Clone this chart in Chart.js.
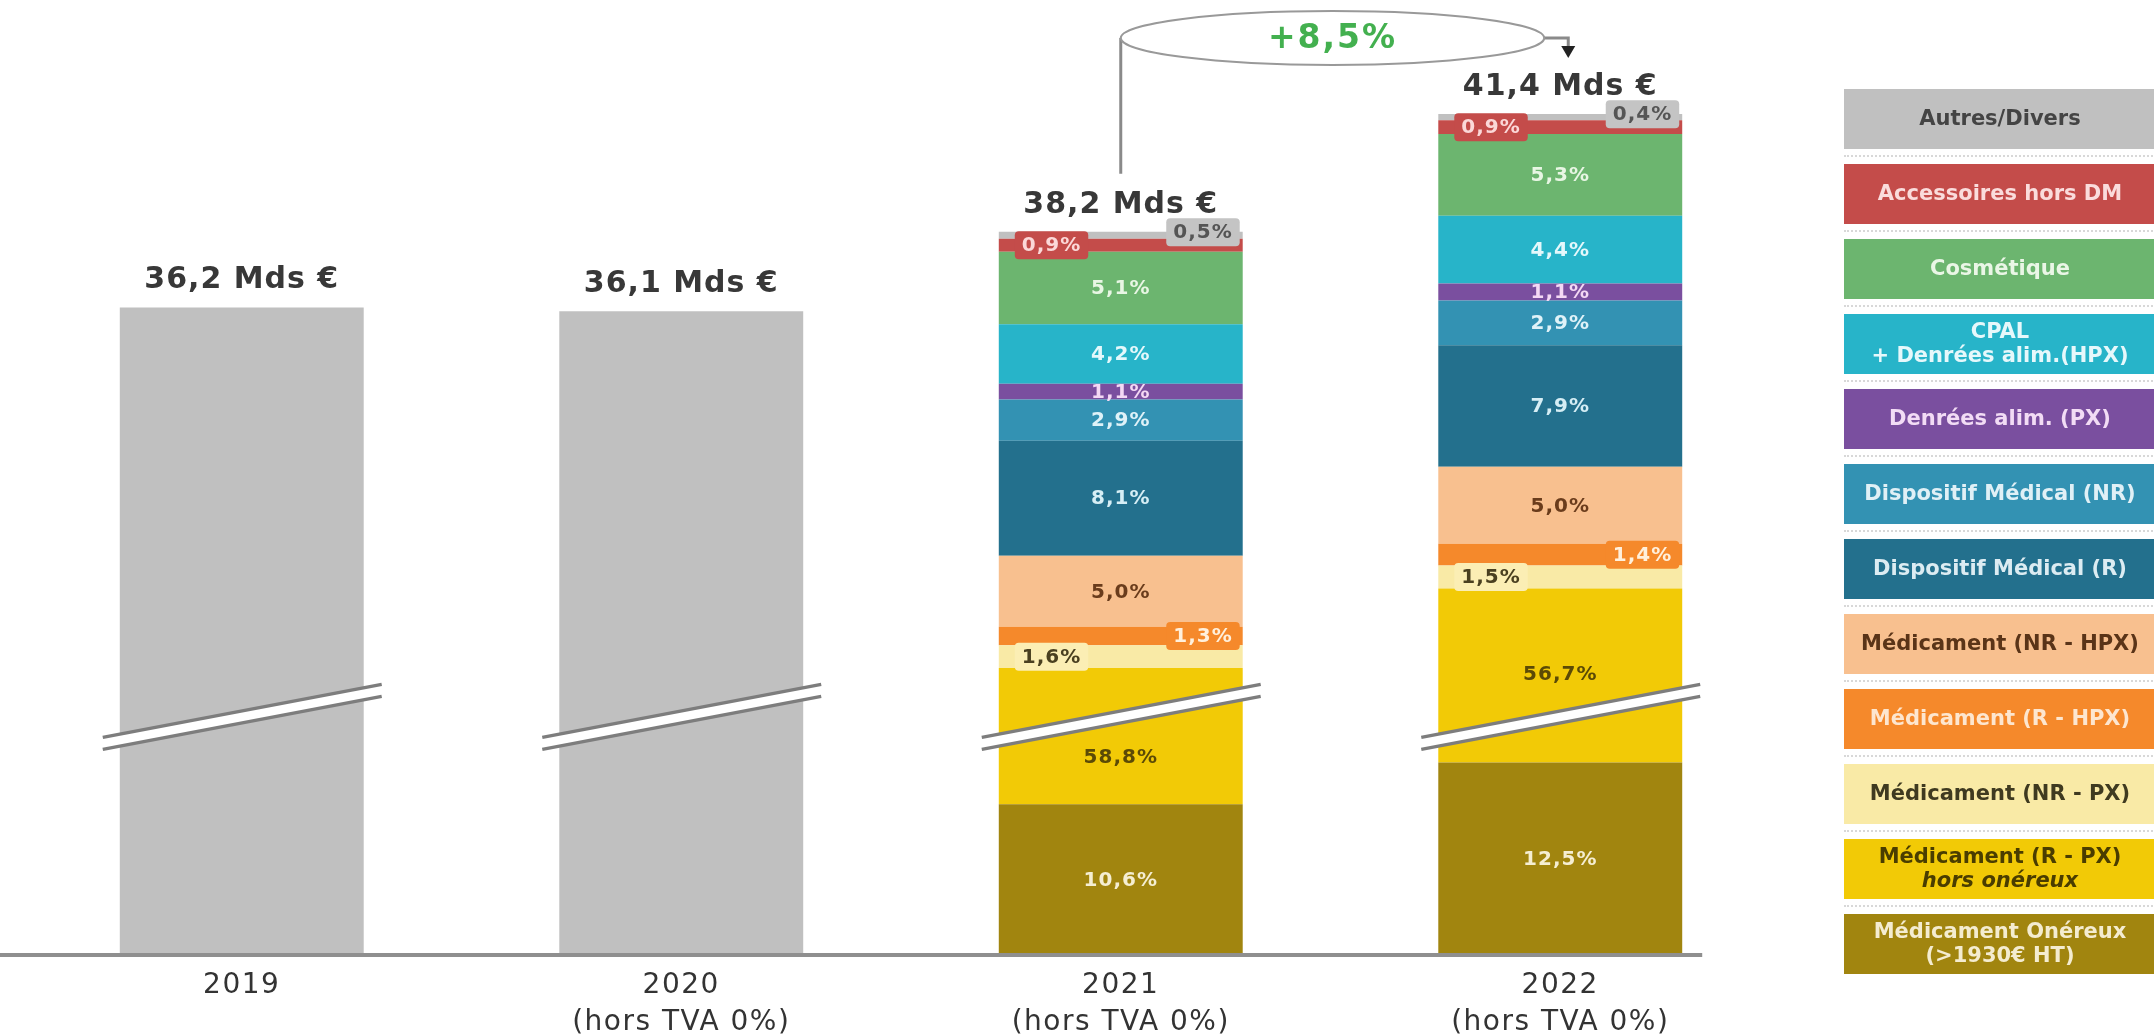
<!DOCTYPE html>
<html lang="fr">
<head>
<meta charset="utf-8">
<title>Marché officinal 2019-2022</title>
<script src="https://cdn.jsdelivr.net/npm/chart.js@4.4.1/dist/chart.umd.min.js"></script>
<style>
  html, body { margin: 0; padding: 0; background: #fff; }
  #wrap { position: relative; width: 2154px; height: 1035px; overflow: hidden; }
  #chart { position: absolute; left: 0; top: 0; }
  #legend { position: absolute; left: 1844px; top: 89px; width: 312px; }
  .leg-item {
    height: 60px; display: flex; flex-direction: column; justify-content: center; align-items: center;
    font: bold 21px 'DejaVu Sans', sans-serif; line-height: 1.12; text-align: center;
  }
  .leg-sep { height: 15px; position: relative; }
  .leg-sep::after { content: ''; position: absolute; left: 0; right: 0; top: 6px; border-top: 2px dotted #d8d8d8; }
</style>
</head>
<body>
<div id="wrap">
  <canvas id="chart" width="2154" height="1035"></canvas>
  <div id="legend"></div>
</div>
<script>
const FONT = "'DejaVu Sans', sans-serif";

// data
const categories = [['2019'], ['2020', '(hors TVA 0%)'], ['2021', '(hors TVA 0%)'], ['2022', '(hors TVA 0%)']];
const totals = [36.2, 36.1, 38.2, 41.4]; // Mds €
const segmentNames = [
  ['Médicament Onéreux', '(>1930€ HT)'],
  ['Médicament (R - PX)', 'hors onéreux'],
  ['Médicament (NR - PX)'],
  ['Médicament (R - HPX)'],
  ['Médicament (NR - HPX)'],
  ['Dispositif Médical (R)'],
  ['Dispositif Médical (NR)'],
  ['Denrées alim. (PX)'],
  ['CPAL', '+ Denrées alim.(HPX)'],
  ['Cosmétique'],
  ['Accessoires hors DM'],
  ['Autres/Divers']
];
const shares2021 = [10.6, 58.8, 1.6, 1.3, 5.0, 8.1, 2.9, 1.1, 4.2, 5.1, 0.9, 0.5]; // %
const shares2022 = [12.5, 56.7, 1.5, 1.4, 5.0, 7.9, 2.9, 1.1, 4.4, 5.3, 0.9, 0.4]; // %
const growthLabel = '+8,5%';

// the axis is cut: this many Mds € are hidden inside the break
const AXIS_BREAK = 18.8;
const BREAK_AT = 6.4; // where the break marks sit, Mds € above the base

// styles
const segmentColors = ['#a1850f', '#f2ca06', '#f9eaa6', '#f5892b', '#f8c08f', '#23708d', '#3392b3', '#7a4f9f', '#27b4c9', '#6cb56f', '#c44c4a', '#c0c0c0'];
const labelColors = ['#f5eed2', '#5b4a06', '#4a4020', '#fff0dc', '#6a3c1c', '#d6eef5', '#dff2f8', '#f4d8f4', '#e4f8fb', '#e8f6e4', '#fbd8d8', '#555555'];
const legendText = ['#f4ecd0', '#4a3d00', '#3f3a20', '#fde6cf', '#5a3418', '#dcecf2', '#e0f0f6', '#f2dcf5', '#e6f8fb', '#eaf6e6', '#fadcdc', '#444444'];
const labelPlace = ['c', 'c', 'l', 'r', 'c', 'c', 'c', 'c', 'c', 'c', 'l', 'r'];
const boxColors = { 2: '#fbeeb4', 3: '#f5892b', 10: '#c44c4a', 11: '#c4c4c4' };
const yellowLabelPos = { 2: 0.35, 3: 0.51 };

function fmt(v) {
  return v.toFixed(1).replace('.', ',') + '%';
}

const datasets = [{
  label: 'Total',
  data: totals.map((t, i) => i < 2 ? t - AXIS_BREAK : null),
  backgroundColor: '#c0c0c0'
}];

segmentNames.forEach((name, s) => {
  const shares = [null, null, shares2021[s], shares2022[s]];
  datasets.push({
    label: name.join(' '),
    shares: shares,
    data: shares.map((p, i) => p === null ? null : totals[i] * p / 100 - (s === 1 ? AXIS_BREAK : 0)),
    backgroundColor: segmentColors[s]
  });
});

// legend on the right, top item = top of the stack
const legend = document.getElementById('legend');
for (let s = segmentNames.length - 1; s >= 0; s--) {
  const item = document.createElement('div');
  item.className = 'leg-item';
  item.style.background = segmentColors[s];
  item.style.color = legendText[s];
  segmentNames[s].forEach((line, k) => {
    const span = document.createElement('div');
    span.textContent = line;
    if (s === 1 && k === 1) span.style.fontStyle = 'italic';
    item.appendChild(span);
  });
  legend.appendChild(item);
  if (s > 0) {
    const sep = document.createElement('div');
    sep.className = 'leg-sep';
    legend.appendChild(sep);
  }
}

function stackTop(chart, i) {
  let top = Infinity;
  chart.data.datasets.forEach((ds, d) => {
    if (ds.data[i] === null) return;
    const el = chart.getDatasetMeta(d).data[i];
    top = Math.min(top, el.y);
  });
  return top;
}

function barOf(chart, i) {
  for (let d = 0; d < chart.data.datasets.length; d++) {
    if (chart.data.datasets[d].data[i] !== null) return chart.getDatasetMeta(d).data[i];
  }
}

const decorations = {
  id: 'decorations',
  beforeDraw(chart) {
    // a bit of spacing for the year labels
    chart.ctx.letterSpacing = '1.5px';
  },
  afterDatasetsDraw(chart) {
    const { ctx, scales: { y } } = chart;
    const base = y.getPixelForValue(0);
    ctx.save();

    // base line
    const last = barOf(chart, categories.length - 1);
    ctx.strokeStyle = '#8f8f8f';
    ctx.lineWidth = 4;
    ctx.beginPath();
    ctx.moveTo(0, base);
    ctx.lineTo(last.x + last.width / 2 + 20, base);
    ctx.stroke();

    // axis break marks
    const yb = y.getPixelForValue(BREAK_AT);
    categories.forEach((c, i) => {
      const el = barOf(chart, i);
      const x0 = el.x - el.width / 2 - 17, x1 = el.x + el.width / 2 + 18;
      const slope = 0.19;
      const y0 = yb + (x1 - x0) * slope / 2, y1 = yb - (x1 - x0) * slope / 2;
      ctx.lineCap = 'butt';
      ctx.strokeStyle = '#ffffff';
      ctx.lineWidth = 12;
      ctx.beginPath(); ctx.moveTo(x0, y0); ctx.lineTo(x1, y1); ctx.stroke();
      ctx.strokeStyle = '#7d7d7d';
      ctx.lineWidth = 3.5;
      [-6, 6].forEach(off => {
        ctx.beginPath(); ctx.moveTo(x0, y0 + off); ctx.lineTo(x1, y1 + off); ctx.stroke();
      });
    });

    // segment labels
    ctx.font = 'bold 20px ' + FONT;
    ctx.textBaseline = 'middle';
    ctx.letterSpacing = '1px';
    chart.data.datasets.forEach((ds, d) => {
      if (!ds.shares) return;
      const s = d - 1;
      ds.shares.forEach((p, i) => {
        if (p === null) return;
        const el = chart.getDatasetMeta(d).data[i];
        let cy = (el.y + el.base) / 2;
        if (s === 1) cy = el.base - (el.base - el.y) * yellowLabelPos[i];
        const text = fmt(p);
        const w = ctx.measureText(text).width;
        let cx = el.x;
        if (labelPlace[s] === 'l') cx = el.x - el.width / 2 + 16 + (w + 14) / 2;
        if (labelPlace[s] === 'r') cx = el.x + el.width / 2 - 3 - (w + 14) / 2;
        if (s === 11) cy -= 3;
        if (boxColors[s]) {
          ctx.fillStyle = boxColors[s];
          ctx.beginPath();
          ctx.roundRect(cx - (w + 14) / 2, cy - 14, w + 14, 28, 4);
          ctx.fill();
        }
        ctx.fillStyle = labelColors[s];
        ctx.textAlign = 'center';
        ctx.fillText(text, cx, cy + 1);
      });
    });

    // totals above the bars
    ctx.font = 'bold 30px ' + FONT;
    ctx.letterSpacing = '1px';
    ctx.fillStyle = '#383838';
    const tops = categories.map((c, i) => stackTop(chart, i));
    totals.forEach((t, i) => {
      const el = barOf(chart, i);
      ctx.fillText(t.toFixed(1).replace('.', ',') + ' Mds €', el.x, tops[i] - 27);
    });

    // growth annotation between 2021 and 2022
    const a = barOf(chart, 2), b = barOf(chart, 3);
    const ay = 38;
    const cx = (a.x + b.x) / 2 - 8, rx = (b.x - a.x) / 2 - 8, ry = 27;
    ctx.strokeStyle = '#8a8a8a';
    ctx.lineWidth = 3;
    ctx.beginPath();
    ctx.moveTo(a.x, tops[2] - 58);
    ctx.lineTo(a.x, ay);
    ctx.lineTo(cx - rx, ay);
    ctx.moveTo(cx + rx, ay);
    ctx.lineTo(b.x + 8, ay);
    ctx.lineTo(b.x + 8, ay + 10);
    ctx.stroke();
    ctx.fillStyle = '#222';
    ctx.beginPath();
    ctx.moveTo(b.x + 1, ay + 8);
    ctx.lineTo(b.x + 15, ay + 8);
    ctx.lineTo(b.x + 8, ay + 20);
    ctx.closePath();
    ctx.fill();
    ctx.fillStyle = '#ffffff';
    ctx.strokeStyle = '#999999';
    ctx.lineWidth = 2;
    ctx.beginPath();
    ctx.ellipse(cx, ay, rx, ry, 0, 0, Math.PI * 2);
    ctx.fill();
    ctx.stroke();
    ctx.font = 'bold 33px ' + FONT;
    ctx.letterSpacing = '2px';
    ctx.fillStyle = '#43b04f';
    ctx.fillText(growthLabel, cx, ay + 1);

    ctx.restore();
  }
};

Chart.defaults.font.family = FONT;

new Chart(document.getElementById('chart'), {
  type: 'bar',
  data: { labels: categories, datasets: datasets },
  options: {
    responsive: false,
    devicePixelRatio: 1,
    animation: false,
    events: [],
    datasets: { bar: { barPercentage: 1, categoryPercentage: 0.555, borderWidth: 0 } },
    layout: { padding: { left: 22, right: 374, top: 62, bottom: 0 } },
    plugins: { legend: { display: false }, tooltip: { enabled: false } },
    scales: {
      x: {
        stacked: true,
        grid: { display: false, drawTicks: false },
        border: { display: false },
        ticks: { color: '#333333', padding: 13, font: { size: 28, lineHeight: 1.3 } },
        afterFit(scale) { scale.height = 80; }
      },
      y: { stacked: true, display: false, min: 0, max: 24 }
    }
  },
  plugins: [decorations]
});
</script>
</body>
</html>
